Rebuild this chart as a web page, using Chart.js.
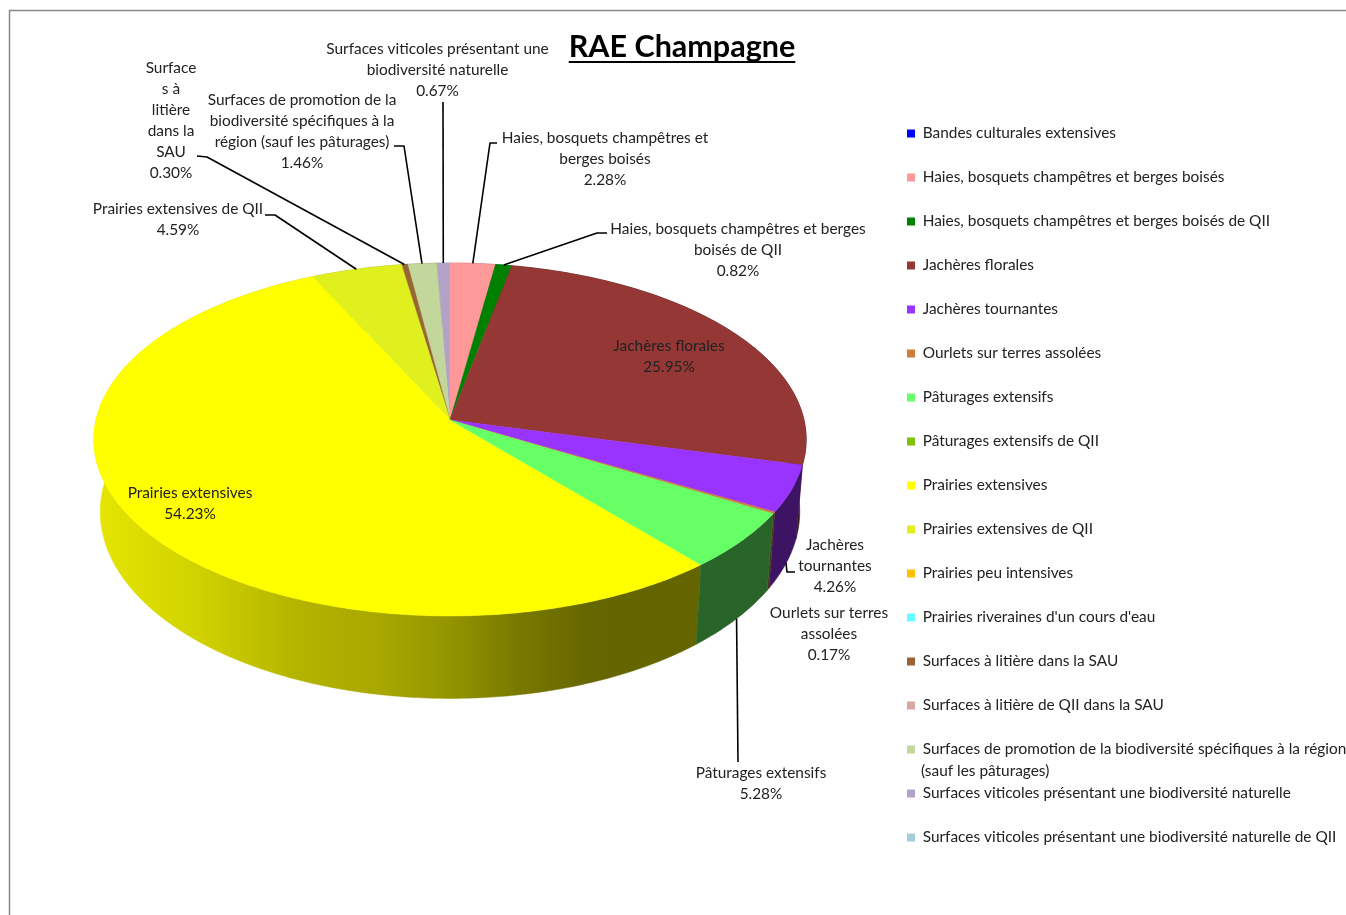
<!DOCTYPE html>
<html lang="fr">
<head>
<meta charset="utf-8">
<title>RAE Champagne</title>
<script src="https://cdn.jsdelivr.net/npm/chart.js@4"></script>
<style>
  html, body { margin: 0; padding: 0; background: #fff; }
  canvas { display: block; }
</style>
</head>
<body>
<canvas id="grafico" width="1346" height="915"></canvas>
<script>
const categories = [
  'Bandes culturales extensives',
  'Haies, bosquets champêtres et berges boisés',
  'Haies, bosquets champêtres et berges boisés de QII',
  'Jachères florales',
  'Jachères tournantes',
  'Ourlets sur terres assolées',
  'Pâturages extensifs',
  'Pâturages extensifs de QII',
  'Prairies extensives',
  'Prairies extensives de QII',
  'Prairies peu intensives',
  "Prairies riveraines d'un cours d'eau",
  'Surfaces à litière dans la SAU',
  'Surfaces à litière de QII dans la SAU',
  'Surfaces de promotion de la biodiversité spécifiques à la région',
  'Surfaces viticoles présentant une biodiversité naturelle',
  'Surfaces viticoles présentant une biodiversité naturelle de QII'
];
const valeurs = [0, 2.28, 0.82, 25.95, 4.26, 0.17, 5.28, 0, 54.23, 4.59, 0, 0, 0.30, 0, 1.46, 0.67, 0];
const couleurs = [
  '#0000ff', '#ff9999', '#008000', '#953735', '#9933ff', '#cc7f3a', '#66ff66', '#80c000', '#ffff00',
  '#e0f01f', '#ffc000', '#66ffff', '#996633', '#d9a6a6', '#c3d69b', '#b3a2c7', '#a5cddc'
];

const FONTE = 'Lato, "Open Sans", sans-serif';
const COR_TEXTO = '#222';
const TAM_TEXTO = 15.4;

// wrapped text of the slice labels: slice index, centre x, y of first line, lines
const rotulos = [
  [15, 437.5, 49.5, ['Surfaces viticoles présentant une', 'biodiversité naturelle']],
  [12, 171, 68.5, ['Surface', 's à', 'litière', 'dans la', 'SAU']],
  [14, 302, 100.5, ['Surfaces de promotion de la', 'biodiversité spécifiques à la', 'région (sauf les pâturages)']],
  [9, 178, 209.5, ['Prairies extensives de QII']],
  [1, 605, 138.5, ['Haies, bosquets champêtres et', 'berges boisés']],
  [2, 738, 229.5, ['Haies, bosquets champêtres et berges', 'boisés de QII']],
  [3, 669, 346.5, ['Jachères florales']],
  [4, 835, 545.5, ['Jachères', 'tournantes']],
  [5, 829, 613.5, ['Ourlets sur terres', 'assolées']],
  [6, 761, 773.5, ['Pâturages extensifs']],
  [8, 190, 493.5, ['Prairies extensives']]
];

// leader lines: slice index, fixed part of the line, rim it ends on
const lignes = [
  [15, [[443, 102]], 'haut'],
  [12, [[197, 156], [207, 157]], 'haut'],
  [14, [[394, 146], [404, 146]], 'haut'],
  [9, [[265, 215], [275, 215]], 'haut'],
  [1, [[497, 143], [490, 143]], 'haut'],
  [2, [[607, 233], [597, 233]], 'haut'],
  [6, [[738, 762]], 'bas']
];

// perspective of the disc, fitted on the picture
const FACE = { x: 450, y: 420, rx: 354, ry: 174.3 };
const FOND = { x: 450, y: 491, rx: 347.6, ry: 184.5 };
const PERSP = 0.1105;

// darkening of the side wall along x
const OMBRE = [[94, 0.9], [200, 0.82], [300, 0.7], [380, 0.66], [450, 0.58], [520, 0.47], [590, 0.4], [806, 0.39]];

function projeter(angulo, disco) {
  const u = Math.cos(angulo);
  const v = Math.sin(angulo);
  const w = 1 - PERSP * v;
  return [disco.x + disco.rx * u / w, disco.y + disco.ry * v / w];
}

function pontosArco(inicio, fim, disco) {
  const passos = Math.max(2, Math.ceil((fim - inicio) / 0.01));
  const pontos = [];
  for (let i = 0; i <= passos; i++) {
    pontos.push(projeter(inicio + (fim - inicio) * i / passos, disco));
  }
  return pontos;
}

function tracar(ctx, pontos) {
  ctx.beginPath();
  pontos.forEach((p, i) => (i === 0 ? ctx.moveTo(p[0], p[1]) : ctx.lineTo(p[0], p[1])));
  ctx.closePath();
}

function gradienteParede(ctx, cor) {
  const r = parseInt(cor.slice(1, 3), 16);
  const g = parseInt(cor.slice(3, 5), 16);
  const b = parseInt(cor.slice(5, 7), 16);
  const grad = ctx.createLinearGradient(94, 0, 806, 0);
  OMBRE.forEach(([x, f]) => {
    grad.addColorStop((x - 94) / 712, `rgb(${r * f}, ${g * f}, ${b * f})`);
  });
  return grad;
}

const perspectivaPlugin = {
  id: 'perspectiva',
  afterLayout(chart) {
    const legenda = chart.legend;
    legenda.left = 878.4;
    legenda.right = 1346;
    legenda.top = 97.2;
    legenda.bottom = 915;
    chart.titleBlock.left = 18;
    chart.titleBlock.right = 1346;
    chart.titleBlock.top = 1;
  },
  beforeDraw(chart) {
    const ctx = chart.ctx;
    ctx.save();
    ctx.fillStyle = '#fff';
    ctx.fillRect(0, 0, chart.width, chart.height);
    ctx.strokeStyle = '#868686';
    ctx.lineWidth = 1.5;
    ctx.beginPath();
    ctx.moveTo(9.5, 915);
    ctx.lineTo(9.5, 10.5);
    ctx.lineTo(1346, 10.5);
    ctx.stroke();
    ctx.restore();
  },
  // the slices come from the library's arc elements, only their shape is projected
  beforeDatasetsDraw(chart) {
    const ctx = chart.ctx;
    const arcos = chart.getDatasetMeta(0).data;
    ctx.save();
    const ordem = arcos.map((a, i) => i).filter(i => valeurs[i] > 0);
    ordem.sort((a, b) => Math.sin((arcos[a].startAngle + arcos[a].endAngle) / 2) - Math.sin((arcos[b].startAngle + arcos[b].endAngle) / 2));
    ordem.forEach(i => {
      const arco = arcos[i];
      const cima = pontosArco(arco.startAngle, arco.endAngle, FACE);
      const baixo = pontosArco(arco.startAngle, arco.endAngle, FOND).reverse();
      const grad = gradienteParede(ctx, couleurs[i]);
      tracar(ctx, cima.concat(baixo));
      ctx.fillStyle = grad;
      ctx.strokeStyle = grad;
      ctx.lineWidth = 0.5;
      ctx.fill();
      ctx.stroke();
    });
    ordem.forEach(i => {
      const arco = arcos[i];
      const borda = pontosArco(arco.startAngle, arco.endAngle, FACE);
      tracar(ctx, [[FACE.x, FACE.y]].concat(borda));
      ctx.fillStyle = couleurs[i];
      ctx.strokeStyle = couleurs[i];
      ctx.lineWidth = 0.5;
      ctx.fill();
      ctx.stroke();
    });
    ctx.restore();
    return false;
  },
  afterDraw(chart) {
    const ctx = chart.ctx;
    const arcos = chart.getDatasetMeta(0).data;
    ctx.save();

    ctx.strokeStyle = '#000';
    ctx.lineWidth = 1.6;
    ctx.lineJoin = 'round';
    lignes.forEach(([i, fixo, aro]) => {
      const meio = (arcos[i].startAngle + arcos[i].endAngle) / 2;
      const fim = projeter(meio, aro === 'haut' ? FACE : FOND);
      ctx.beginPath();
      fixo.concat([fim]).forEach((p, k) => (k === 0 ? ctx.moveTo(p[0], p[1]) : ctx.lineTo(p[0], p[1])));
      ctx.stroke();
    });
    // short tick of Jachères tournantes
    ctx.beginPath();
    ctx.moveTo(786, 563);
    ctx.lineTo(787, 572);
    ctx.lineTo(795, 572);
    ctx.stroke();

    ctx.fillStyle = COR_TEXTO;
    ctx.font = TAM_TEXTO + 'px ' + FONTE;
    ctx.textAlign = 'center';
    ctx.textBaseline = 'middle';
    rotulos.forEach(([i, x, y, textos]) => {
      textos.concat([valeurs[i].toFixed(2) + '%']).forEach((t, k) => ctx.fillText(t, x, y + k * 21));
    });

    // second line of the long legend entry
    const caixa = chart.legend.legendHitBoxes[14];
    ctx.textAlign = 'left';
    ctx.fillText('(sauf les pâturages)', 921, caixa.top + 29);

    // title underline
    const titulo = chart.options.plugins.title;
    ctx.font = `bold ${titulo.font.size}px ` + FONTE;
    const largura = ctx.measureText(titulo.text).width;
    ctx.fillStyle = '#000';
    ctx.fillRect(682 - largura / 2, 61, largura, 2);
    ctx.restore();
  }
};

new Chart(document.getElementById('grafico'), {
  type: 'pie',
  data: {
    labels: categories,
    datasets: [{
      data: valeurs,
      backgroundColor: couleurs,
      borderWidth: 0
    }]
  },
  options: {
    responsive: false,
    animation: false,
    plugins: {
      title: {
        display: true,
        text: 'RAE Champagne',
        color: '#000',
        font: { family: FONTE, size: 30.5, weight: 'bold' },
        padding: { top: 28, bottom: 0 }
      },
      legend: {
        position: 'right',
        align: 'start',
        labels: {
          boxWidth: 8,
          boxHeight: 8,
          padding: 28.6,
          color: COR_TEXTO,
          font: { family: FONTE, size: TAM_TEXTO }
        }
      },
      tooltip: { enabled: false }
    }
  },
  plugins: [perspectivaPlugin]
});
</script>
</body>
</html>
